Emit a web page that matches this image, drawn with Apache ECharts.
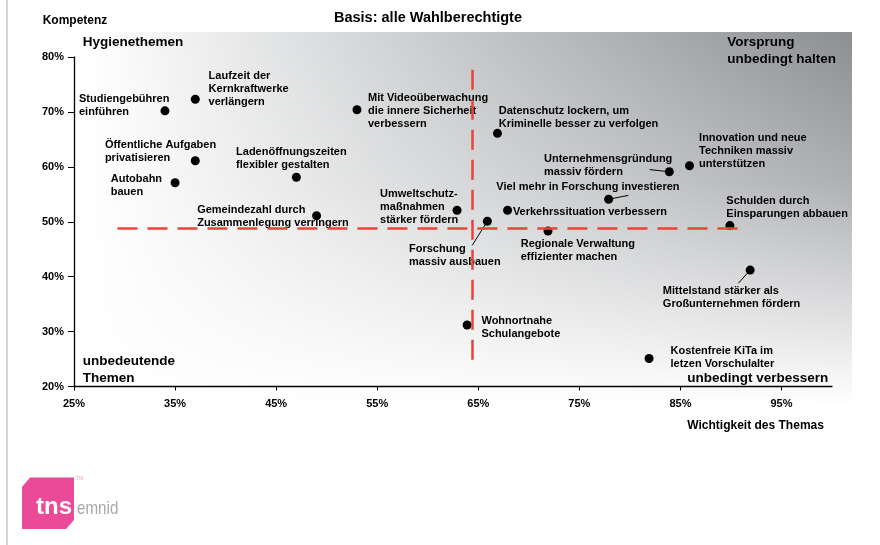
<!DOCTYPE html>
<html>
<head>
<meta charset="utf-8">
<script src="https://cdn.jsdelivr.net/npm/echarts@6/dist/echarts.min.js"></script>
<style>
  html, body { margin: 0; padding: 0; background: #fff; }
  #chart { width: 880px; height: 545px; }
</style>
</head>
<body>
<div id="chart"></div>
<script>
// topics (labels as printed, with their line breaks)
const topics = [
  'Studiengebühren\neinführen',
  'Laufzeit der\nKernkraftwerke\nverlängern',
  'Mit Videoüberwachung\ndie innere Sicherheit\nverbessern',
  'Datenschutz lockern, um\nKriminelle besser zu verfolgen',
  'Öffentliche Aufgaben\nprivatisieren',
  'Autobahn\nbauen',
  'Ladenöffnungszeiten\nflexibler gestalten',
  'Gemeindezahl durch\nZusammenlegung verringern',
  'Umweltschutz-\nmaßnahmen\nstärker fördern',
  'Forschung\nmassiv ausbauen',
  'Verkehrssituation verbessern',
  'Regionale Verwaltung\neffizienter machen',
  'Viel mehr in Forschung investieren',
  'Unternehmensgründung\nmassiv fördern',
  'Innovation und neue\nTechniken massiv\nunterstützen',
  'Schulden durch\nEinsparungen abbauen',
  'Mittelstand stärker als\nGroßunternehmen fördern',
  'Wohnortnahe\nSchulangebote',
  'Kostenfreie KiTa im\nletzen Vorschulalter'
];
// Wichtigkeit des Themas (x, %)
const importance = [34, 37, 53, 66.9, 37, 35, 47, 49, 62.9, 65.9, 67.9, 71.9, 77.9, 83.9, 85.9, 89.9, 91.9, 63.9, 81.9];
// Kompetenz (y, %)
const competence = [70.2, 72.3, 70.4, 66.1, 61.1, 57.1, 58.1, 51.1, 52.1, 50.1, 52.1, 48.3, 54.1, 59.1, 60.2, 49.3, 41.2, 31.2, 25.1];

const xTicks = [25, 35, 45, 55, 65, 75, 85, 95];
const yTicks = [20, 30, 40, 50, 60, 70, 80];

// red threshold lines (start / end points in data units)
const hThreshold = [[29.3, 48.8], [91.5, 48.8]];
const vThreshold = [[64.4, 77.7], [64.4, 24.3]];

// short leader lines from label to dot
const leaders = [
  [[81.96, 59.5], [83.9, 59.1]],
  [[79.85, 54.8], [77.9, 54.1]],
  [[64.4, 45.7], [65.9, 50.1]],
  [[90.74, 38.8], [91.9, 41.2]]
];

// label placement: text top-left relative to dot centre (px)
const labelOffsets = [
  [-86, -18.5], [13.3, -30], [11, -18], [1.3, -28.8], [-90.4, -22.5],
  [-64.3, -10.5], [-60.3, -32.1], [-119.4, -12.2], [-77, -23.2], [-78.4, 20.8],
  [5.3, -4.8], [-27.3, 6.8], [-112.3, -18.5], [-125.3, -18.9], [9.6, -34.2],
  [-3.6, -31.2], [-87.3, 14.8], [14.3, -10.5], [21.4, -14.5]
];

const FONT = "'Liberation Sans', Arial, Helvetica, sans-serif";
const DOT = 9;

const chart = echarts.init(document.getElementById('chart'));

const points = topics.map((t, i) => ({
  value: [importance[i], competence[i]],
  label: { position: [labelOffsets[i][0] + DOT / 2, labelOffsets[i][1] + DOT / 2] }
}));

function txt(x, y, text, size, opts) {
  return Object.assign({
    type: 'text', x: x, y: y, z: 10, silent: true,
    style: Object.assign({
      text: text, fill: '#000', font: 'bold ' + size + 'px ' + FONT,
      align: 'left', verticalAlign: 'middle'
    }, (opts && opts.style) || {})
  }, opts && opts.el);
}

chart.setOption({
  animation: false,
  backgroundColor: '#fff',
  grid: { left: 74, top: 57, right: 48, bottom: 158.5, containLabel: false, outerBoundsMode: 'none' },
  xAxis: {
    type: 'value', min: 25, max: 100, interval: 10,
    axisLine: { lineStyle: { color: '#000', width: 1.3 } },
    axisTick: { length: 4, lineStyle: { color: '#000' }, customValues: xTicks },
    axisLabel: {
      customValues: xTicks, margin: 12, color: '#000', fontSize: 11, fontWeight: 'bold',
      fontFamily: FONT, formatter: '{value}%'
    },
    splitLine: { show: false }
  },
  yAxis: {
    type: 'value', min: 20, max: 80, interval: 10,
    axisLine: { show: true, lineStyle: { color: '#000', width: 1.3 } },
    axisTick: { show: true, length: 6, lineStyle: { color: '#000' }, customValues: yTicks },
    axisLabel: {
      customValues: yTicks, margin: 10, color: '#000', fontSize: 11, fontWeight: 'bold',
      fontFamily: FONT, formatter: '{value}%'
    },
    splitLine: { show: false }
  },
  graphic: [
    // page border on the left
    { type: 'line', z: -5, silent: true, shape: { x1: 7, y1: 0, x2: 7, y2: 545 },
      style: { stroke: '#c6c6c6', lineWidth: 1.5 } },
    // shaded background
    { type: 'rect', z: -5, silent: true, shape: { x: 88, y: 32, width: 764, height: 373 },
      style: { fill: new echarts.graphic.LinearGradient(0, 0, 1, 0, [
        { offset: 0, color: '#ffffff' }, { offset: 0.5, color: '#c4c6c8' }, { offset: 1, color: '#8c8e92' }]) } },
    { type: 'rect', z: -4, silent: true, shape: { x: 88, y: 32, width: 764, height: 373 },
      style: { fill: new echarts.graphic.LinearGradient(0, 0, 0, 1, [
        { offset: 0, color: 'rgba(255,255,255,0)' }, { offset: 0.4, color: 'rgba(255,255,255,0.3)' },
        { offset: 1, color: 'rgba(255,255,255,1)' }]) } },
    // titles
    txt(428, 17.5, 'Basis: alle Wahlberechtigte', 14.5, { style: { align: 'center' } }),
    txt(42.7, 20.7, 'Kompetenz', 12),
    txt(687.3, 425.7, 'Wichtigkeit des Themas', 12),
    // quadrant names
    txt(82.7, 42.3, 'Hygienethemen', 13.5),
    txt(727.3, 34, 'Vorsprung\nunbedingt halten', 13.5, { style: { verticalAlign: 'top', lineHeight: 16.7 } }),
    txt(82.7, 352.4, 'unbedeutende\nThemen', 13.5, { style: { verticalAlign: 'top', lineHeight: 17.3 } }),
    txt(687.3, 378.3, 'unbedingt verbessern', 13.5),
    // logo
    { type: 'polygon', z: 5, silent: true,
      shape: { points: [[30, 477.5], [74, 477.5], [74, 520], [66, 529], [22, 529], [22, 487]] },
      style: { fill: '#ea4a98' } },
    txt(36, 507, 'tns', 24, { style: { fill: '#ffffff' } }),
    txt(77, 509, 'emnid', 19, { style: { fill: '#a8a8a8', font: '19px ' + FONT }, el: { scaleX: 0.8 } }),
    txt(76, 479, 'TM', 5, { style: { fill: '#f29ac4', font: '5px ' + FONT } })
  ],
  series: [
    {
      type: 'scatter',
      z: 2,
      symbol: 'circle',
      symbolSize: DOT,
      itemStyle: { color: '#000', opacity: 1 },
      data: points,
      label: {
        show: true,
        formatter: p => topics[p.dataIndex],
        align: 'left', verticalAlign: 'top',
        color: '#000', opacity: 1, fontSize: 11, fontWeight: 'bold', lineHeight: 13, fontFamily: FONT
      },
      emphasis: { disabled: true },
      markLine: {
        silent: true, symbol: ['none', 'none'], label: { show: false },
        lineStyle: { color: '#000', width: 1, type: 'solid', opacity: 1 },
        data: leaders.map(l => [{ coord: l[0] }, { coord: l[1] }])
      }
    },
    {
      type: 'scatter',
      z: 5,
      data: [],
      markLine: {
        silent: true, symbol: ['none', 'none'], label: { show: false },
        lineStyle: { color: '#e8443a', width: 2.5, type: [20, 10], opacity: 1 },
        data: [
          [{ coord: hThreshold[0] }, { coord: hThreshold[1] }],
          [{ coord: vThreshold[0] }, { coord: vThreshold[1] }]
        ]
      }
    }
  ]
});
</script>
</body>
</html>
